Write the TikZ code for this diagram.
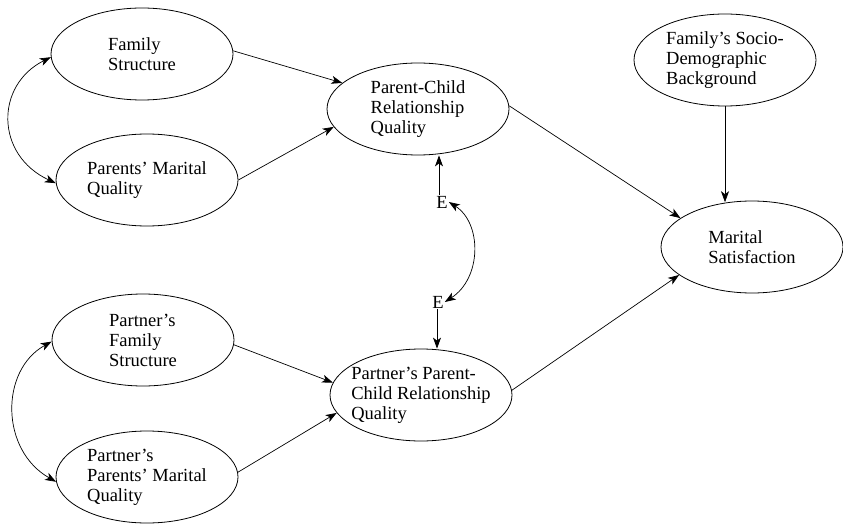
\documentclass[tikz,border=0pt]{standalone}
\usepackage{fontspec}
\setmainfont{Liberation Serif}
\usetikzlibrary{shapes.geometric,arrows.meta}
\begin{document}
\begin{tikzpicture}[x=1pt,y=1pt,
  latent/.style={ellipse,draw,line width=0.8pt,minimum width=182pt,minimum height=92pt,
    inner xsep=-15pt,inner ysep=0pt,align=left,font=\fontsize{18.5}{20}\selectfont},
  err/.style={inner sep=1pt,font=\fontsize{18.5}{20}\selectfont},
  tip/.tip={Stealth[length=11pt,width=8pt,inset=3pt]},
  path/.style={line width=0.7pt,-tip},
  cov/.style={line width=0.7pt,tip-tip}]
\useasboundingbox (0,0) rectangle (843,523);
% latent variables
\node[latent] (fs)    at (142,469) {Family\\Structure};
\node[latent] (pmq)   at (147,343) {Parents’ Marital\\Quality};
\node[latent] (pcrq)  at (418,414) {Parent-Child\\Relationship\\Quality};
\node[latent] (fsdb)  at (725,463) {Family’s Socio-\\Demographic\\Background};
\node[latent] (ms)    at (752,276) {Marital\\Satisfaction};
\node[latent] (pfs)   at (143,183) {Partner’s\\Family\\Structure};
\node[latent] (ppmq)  at (147,46)  {Partner’s\\Parents’ Marital\\Quality};
\node[latent] (ppcrq) at (421,128) {Partner’s Parent-\\Child Relationship\\Quality};
% error terms
\node[err] (e1) at (442,321) {E};
\node[err] (e2) at (438,221) {E};
% structural paths
\draw[path] (fs.2) -- (pcrq.161);
\draw[path] (pmq.east) -- (pcrq.192);
\draw[path] (pcrq.2) -- (ms.158);
\draw[path] (fsdb.south) -- (fsdb.south |- ms.118);
\draw[path] (pfs.-3) -- (ppcrq.172);
\draw[path] (ppmq.3) -- (ppcrq.192);
\draw[path] (ppcrq.3) -- (ms.201);
\draw[path] ([xshift=-3pt]e1.north) -- ([xshift=-3pt]e1.north |- pcrq.south);
\draw[path] ([xshift=-1pt]e2.south) -- ([xshift=-1pt]e2.south |- ppcrq.north);
% covariances
\draw[cov] (fs.182) .. controls (-5,438) and (-5,368) .. (pmq.182);
\draw[cov] (pfs.181) .. controls (0,153) and (0,73) .. (ppmq.183);
\draw[cov] (e1.east) .. controls (482,300) and (482,245) .. (e2.east);
\end{tikzpicture}
\end{document}
